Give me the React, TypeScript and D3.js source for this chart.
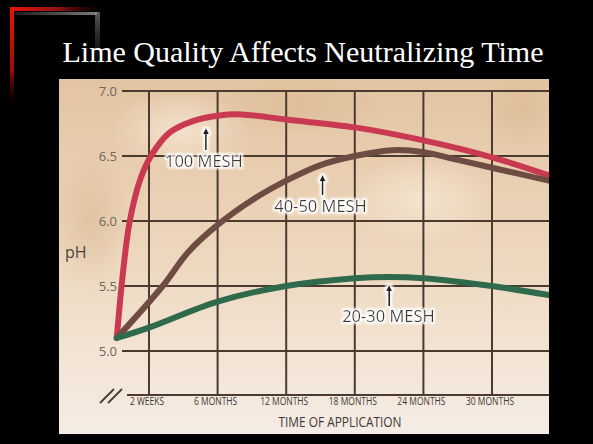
import React from "react";
import * as d3 from "d3";

const TITLE = "Lime Quality Affects Neutralizing Time";
const xCategories = ["2 WEEKS", "6 MONTHS", "12 MONTHS", "18 MONTHS", "24 MONTHS", "30 MONTHS"];
const yTicks = [5.0, 5.5, 6.0, 6.5, 7.0];

// [time index (0 = 2 weeks, 1 = 6 months ...), pH]
const mesh100: [number, number][] = [
  [-0.47, 5.1], [-0.38, 5.6], [-0.28, 6.0], [-0.12, 6.33], [0.04, 6.51], [0.3, 6.68],
  [0.65, 6.77], [1.0, 6.81], [1.35, 6.82], [2.0, 6.78], [3.0, 6.72], [4.0, 6.62], [5.0, 6.49], [5.83, 6.35],
];
const mesh4050: [number, number][] = [
  [-0.47, 5.1], [0.2, 5.5], [0.57, 5.76], [1.0, 5.97], [1.5, 6.16], [2.0, 6.31],
  [2.5, 6.43], [3.0, 6.5], [3.55, 6.545], [4.0, 6.53], [4.5, 6.47], [5.0, 6.41], [5.83, 6.31],
];
const mesh2030: [number, number][] = [
  [-0.47, 5.1], [0.0, 5.18], [1.0, 5.38], [2.0, 5.5], [3.0, 5.56], [3.5, 5.57], [4.0, 5.56], [5.0, 5.5], [5.83, 5.43],
];

const seriesNames = ["100 MESH", "40-50 MESH", "20-30 MESH"];
const seriesData = [mesh100, mesh4050, mesh2030];
const seriesColors = ["#c93a52", "#6e4b43", "#2f6a4d"];

// annotation: label centre (index, pH baseline), arrow (index, top pH, bottom pH)
const labelIdx = [0.8, 2.5, 3.49];
const labelPH = [6.415, 6.07, 5.223];
const arrowIdx = [0.83, 2.53, 3.5];
const arrowTop = [6.715, 6.354, 5.508];
const arrowBottom = [6.546, 6.2, 5.346];

export default function App() {
  const W = 593, H = 444;
  const px0 = 59, py0 = 79, px1 = 549, py1 = 434;
  const x = d3.scaleLinear().domain([0, 5]).range([149, 492]);
  const y = d3.scaleLinear().domain([5, 7]).range([351, 91]);
  const axisY = 395;
  const line = d3.line<[number, number]>().x(d => x(d[0])).y(d => y(d[1])).curve(d3.curveCatmullRom.alpha(0.5));
  const sans = "'Open Sans', 'DejaVu Sans', sans-serif";
  const grid = "#4b3a30";

  return (
    <div style={{ position: "fixed", left: 0, top: 0, width: W, height: H, background: "#000" }}>
      <svg width={W} height={H} style={{ display: "block" }}>
        <defs>
          <linearGradient id="bg" x1="0" y1="0" x2="0" y2="1">
            <stop offset="0" stopColor="#e3c4a2" />
            <stop offset="0.45" stopColor="#ecd5ba" />
            <stop offset="0.8" stopColor="#f3e5d6" />
            <stop offset="1" stopColor="#f5ece5" />
          </linearGradient>
          <radialGradient id="blot1" cx="0.5" cy="0.5" r="0.5">
            <stop offset="0" stopColor="#f7e8d6" stopOpacity="0.8" />
            <stop offset="1" stopColor="#f7e8d6" stopOpacity="0" />
          </radialGradient>
          <radialGradient id="blot2" cx="0.5" cy="0.5" r="0.5">
            <stop offset="0" stopColor="#d9b690" stopOpacity="0.55" />
            <stop offset="1" stopColor="#d9b690" stopOpacity="0" />
          </radialGradient>
          <linearGradient id="redV" x1="0" y1="0" x2="0" y2="1">
            <stop offset="0" stopColor="#e8140c" />
            <stop offset="0.6" stopColor="#a00c08" />
            <stop offset="1" stopColor="#000" stopOpacity="0" />
          </linearGradient>
          <linearGradient id="redH" x1="0" y1="0" x2="1" y2="0">
            <stop offset="0" stopColor="#e8140c" />
            <stop offset="0.5" stopColor="#8a1410" />
            <stop offset="1" stopColor="#000" stopOpacity="0" />
          </linearGradient>
          <linearGradient id="grayH" x1="0" y1="0" x2="1" y2="0">
            <stop offset="0" stopColor="#222" />
            <stop offset="0.7" stopColor="#777" />
            <stop offset="1" stopColor="#999" />
          </linearGradient>
          <linearGradient id="grayV" x1="0" y1="0" x2="0" y2="1">
            <stop offset="0" stopColor="#999" />
            <stop offset="1" stopColor="#000" stopOpacity="0" />
          </linearGradient>
          <clipPath id="panel">
            <rect x={px0} y={py0} width={px1 - px0} height={py1 - py0} />
          </clipPath>
          <filter id="halo" x="-10%" y="-30%" width="120%" height="160%">
            <feMorphology in="SourceAlpha" operator="dilate" radius="1.5" result="d" />
            <feGaussianBlur in="d" stdDeviation="1.2" result="b" />
            <feFlood floodColor="#ffffff" floodOpacity="0.95" />
            <feComposite in2="b" operator="in" result="w" />
            <feMerge>
              <feMergeNode in="w" />
              <feMergeNode in="SourceGraphic" />
            </feMerge>
          </filter>
        </defs>

        {/* decoration */}
        <rect x={10} y={7} width={4} height={105} fill="url(#redV)" />
        <rect x={10} y={7} width={100} height={4} fill="url(#redH)" />
        <rect x={14} y={12} width={83} height={3} fill="url(#grayH)" opacity={0.8} />
        <rect x={95} y={12} width={5} height={70} fill="url(#grayV)" opacity={0.6} />

        <text x={303} y={62} textAnchor="middle" fill="#fff"
          style={{ fontFamily: "'Liberation Serif', 'Times New Roman', serif", fontSize: 30 }}>{TITLE}</text>

        {/* panel */}
        <rect x={px0} y={py0} width={px1 - px0} height={py1 - py0} fill="url(#bg)" />
        <g clipPath="url(#panel)">
          <ellipse cx={180} cy={130} rx={70} ry={40} fill="url(#blot1)" />
          <ellipse cx={420} cy={200} rx={80} ry={45} fill="url(#blot1)" />
          <ellipse cx={300} cy={105} rx={90} ry={30} fill="url(#blot2)" />
          <ellipse cx={90} cy={220} rx={40} ry={70} fill="url(#blot2)" />
          <ellipse cx={520} cy={110} rx={40} ry={40} fill="url(#blot2)" />

          {yTicks.map(t => (
            <line key={t} x1={122} x2={px1} y1={y(t)} y2={y(t)} stroke={grid} strokeWidth={2} />
          ))}
          {xCategories.map((c, i) => (
            <line key={c} x1={x(i)} x2={x(i)} y1={y(7)} y2={axisY} stroke={grid} strokeWidth={2} />
          ))}
          <line x1={127} x2={px1} y1={axisY} y2={axisY} stroke={grid} strokeWidth={2} />
          <line x1={100} y1={403} x2={114} y2={389} stroke={grid} strokeWidth={1.8} />
          <line x1={108} y1={403} x2={122} y2={389} stroke={grid} strokeWidth={1.8} />

          {seriesData.map((s, i) => (
            <path key={seriesNames[i]} d={line(s) || ""} fill="none" stroke={seriesColors[i]}
              strokeWidth={6} strokeLinecap="round" strokeLinejoin="round" />
          ))}

          {seriesNames.map((n, i) => (
            <g key={n} filter="url(#halo)">
              <line x1={x(arrowIdx[i])} x2={x(arrowIdx[i])} y1={y(arrowTop[i]) + 4} y2={y(arrowBottom[i])}
                stroke="#222" strokeWidth={1.8} />
              <path d={`M${x(arrowIdx[i]) - 3},${y(arrowTop[i]) + 6} L${x(arrowIdx[i])},${y(arrowTop[i])} L${x(arrowIdx[i]) + 3},${y(arrowTop[i]) + 6} Z`}
                fill="#222" />
              <text x={x(labelIdx[i])} y={y(labelPH[i])} textAnchor="middle" fill="#3a3836"
                style={{ fontFamily: sans, fontSize: 16.5 }}>{n}</text>
            </g>
          ))}

          {yTicks.map(t => (
            <text key={t} x={117} y={y(t)} dy="0.36em" textAnchor="end" fill="#6e665f"
              style={{ fontFamily: sans, fontSize: 13 }}>{t.toFixed(1)}</text>
          ))}
          {xCategories.map((c, i) => (
            <text key={c} transform={`translate(${x(i) - 2},405) scale(0.85,1)`} textAnchor="middle" fill="#3f3a36"
              style={{ fontFamily: sans, fontSize: 10 }}>{c}</text>
          ))}
          <text transform={`translate(340,427) scale(0.82,1)`} textAnchor="middle" fill="#3d3835"
            style={{ fontFamily: sans, fontSize: 14.5 }}>TIME OF APPLICATION</text>
          <text x={65} y={258} fill="#4a4542" style={{ fontFamily: sans, fontSize: 16 }}>pH</text>
        </g>
      </svg>
    </div>
  );
}
